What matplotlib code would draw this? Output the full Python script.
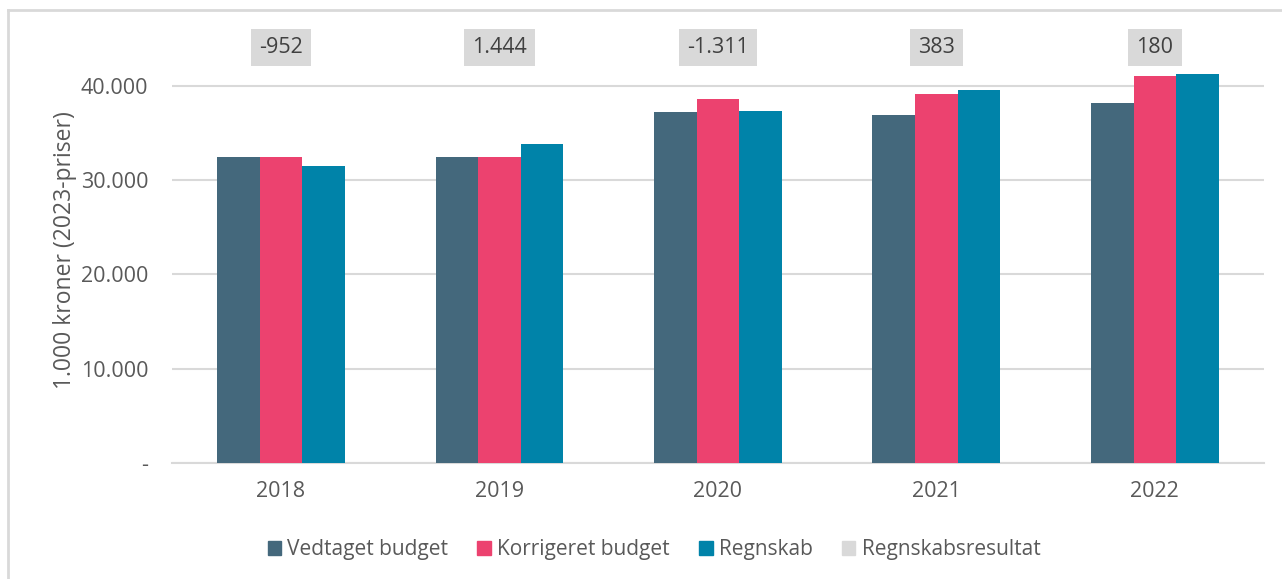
import numpy as np
import matplotlib
matplotlib.use('Agg')
import matplotlib.pyplot as plt
from matplotlib.lines import Line2D
from matplotlib.patches import Patch

plt.rcParams['font.family'] = ['Open Sans', 'DejaVu Sans']

# Data (1.000 kroner, 2023-priser)
years = ['2018', '2019', '2020', '2021', '2022']
vedtaget = [32450, 32450, 37230, 36900, 38200]
korrigeret = [32450, 32450, 38600, 39180, 41060]
regnskab = [31500, 33890, 37290, 39570, 41250]
resultat_labels = ['-952', '1.444', '-1.311', '383', '180']

c_ved = '#44687C'
c_kor = '#EC426F'
c_reg = '#0083A9'
c_res = '#D9D9D9'
txt = '#595959'

fig = plt.figure(figsize=(12.82, 5.79), dpi=100)
ax = fig.add_axes([0.134, 0.2003, 0.852, 0.749])

x = np.arange(len(years))
w = 0.195
ax.bar(x - w, vedtaget, w, color=c_ved, zorder=3)
ax.bar(x, korrigeret, w, color=c_kor, zorder=3)
ax.bar(x + w, regnskab, w, color=c_reg, zorder=3)

# regnskabsresultat shown as labels in grey boxes
for i, lab in enumerate(resultat_labels):
    ax.text(x[i], 44100, lab, ha='center', va='center', fontsize=15.5, color='#404040',
            bbox=dict(boxstyle='square,pad=0.38', fc=c_res, ec='none'))

ax.set_xlim(-0.5, len(years) - 0.5)
ax.set_ylim(0, 46000)
ax.set_yticks([0, 10000, 20000, 30000, 40000])
ax.set_yticklabels(['-', '10.000', '20.000', '30.000', '40.000'])
ax.set_xticks(x)
ax.set_xticklabels(years)
ax.tick_params(axis='y', length=0, pad=17, labelsize=15.5, labelcolor=txt)
ax.tick_params(axis='x', length=0, pad=13, labelsize=15.5, labelcolor=txt)
ax.grid(axis='y', color=c_res, linewidth=1.5, zorder=0)
for s in ['top', 'right', 'left']:
    ax.spines[s].set_visible(False)
ax.spines['bottom'].set_color(c_res)
ax.spines['bottom'].set_linewidth(1.5)
ax.set_ylabel('1.000 kroner (2023-priser)', fontsize=16.5, color=txt)
ax.yaxis.set_label_coords(-0.087, 0.49)

handles = [Patch(color=c_ved, label='Vedtaget budget'),
           Patch(color=c_kor, label='Korrigeret budget'),
           Patch(color=c_reg, label='Regnskab'),
           Patch(color=c_res, label='Regnskabsresultat')]
leg = fig.legend(handles=handles, loc='center', bbox_to_anchor=(654 / 1282, 29 / 579),
                 ncol=4, frameon=False, fontsize=15, handlelength=0.65, handleheight=0.65,
                 handletextpad=0.3, columnspacing=1.4)
for t in leg.get_texts():
    t.set_color(txt)

# outer chart border (only left and top visible)
fig.add_artist(Line2D([8 / 1282, 8 / 1282], [0, 1 - 10 / 579], color=c_res, lw=2))
fig.add_artist(Line2D([8 / 1282, 1], [1 - 10 / 579, 1 - 10 / 579], color=c_res, lw=2))

fig.savefig('out.png', dpi=100)
